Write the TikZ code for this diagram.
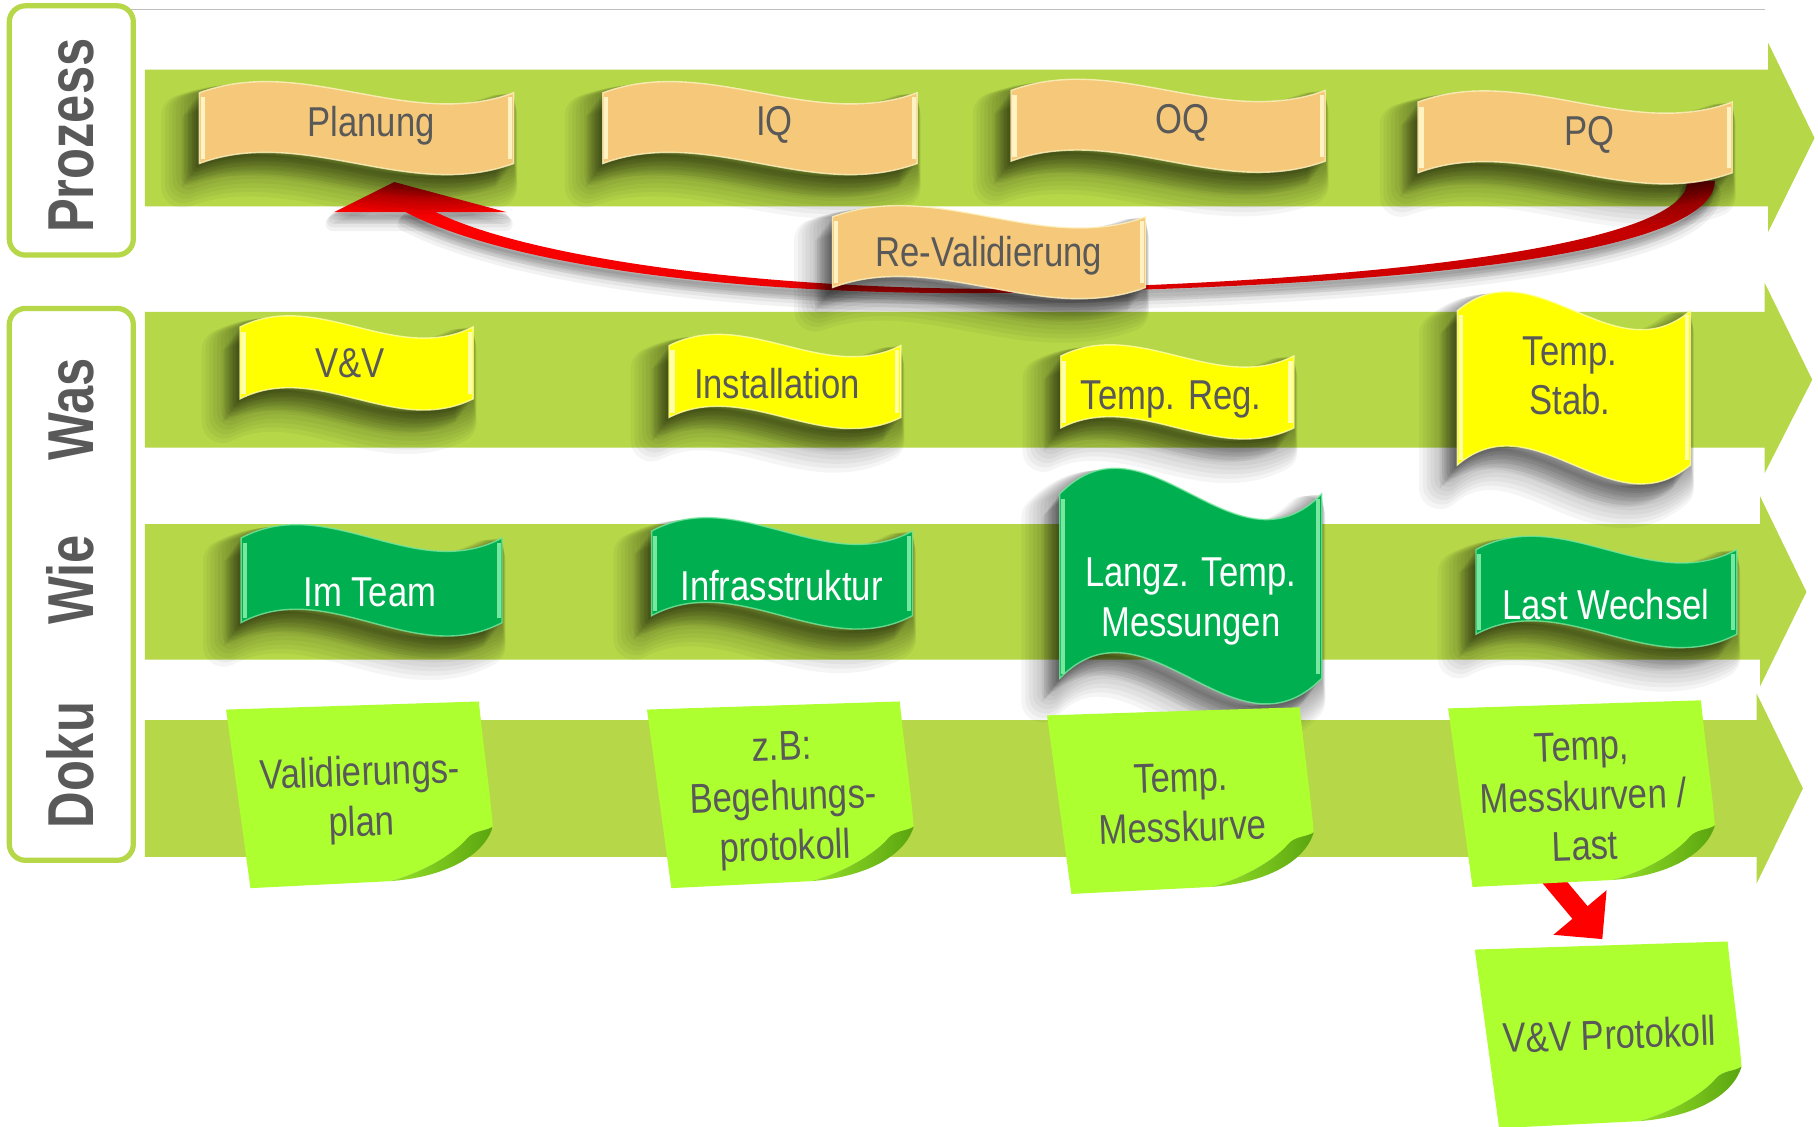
\documentclass[tikz,border=0pt]{standalone}
\usepackage{fontspec}
\setmainfont{Liberation Sans}[FakeStretch=0.83]
\newfontfamily\lblfont{Liberation Sans}[FakeStretch=0.78]
\usetikzlibrary{arrows.meta}
\definecolor{cBand}{RGB}{181,215,72}
\definecolor{cGreyT}{RGB}{89,89,89}
\definecolor{cTan}{RGB}{245,201,121}
\definecolor{cTanL}{RGB}{255,243,195}
\definecolor{cYel}{RGB}{255,255,0}
\definecolor{cYelL}{RGB}{255,255,170}
\definecolor{cGrn}{RGB}{0,176,80}
\definecolor{cGrnL}{RGB}{120,232,160}
\definecolor{cNote}{RGB}{173,255,47}
\definecolor{cCurlA}{RGB}{150,225,40}
\definecolor{cCurlB}{RGB}{90,165,15}
\definecolor{cRed}{RGB}{255,0,0}
\definecolor{cDRed}{RGB}{192,0,0}
\definecolor{cLine}{RGB}{191,191,191}

\newcommand\wave[6]{%
  \path[#6] (#1,{#2+#5}) .. controls ({#1+#3/3},{#2+#5-10*#5/3}) and ({#1+2*#3/3},{#2+#5+10*#5/3}) .. ({#1+#3},{#2+#5})
   -- ({#1+#3},{#2+#4-#5}) .. controls ({#1+2*#3/3},{#2+#4-#5+10*#5/3}) and ({#1+#3/3},{#2+#4-#5-10*#5/3}) .. (#1,{#2+#4-#5}) -- cycle;}
\newcommand\banner[7]{%
  \foreach \k in {1,...,10}{%
    \wave{#1}{#2}{#3}{#4}{#5}{shadowlayer, line width={3.6*\k}, shift={({-1.5*\k},{2.0*\k})}}}
  \wave{#1}{#2}{#3}{#4}{#5}{fill=#6}
  \wave{#1}{#2}{#3}{#4}{#5}{draw=#7, line width=1.2, draw opacity=0.8}
  \draw[#7, line width=3.5] ({#1+3},{#2+#5+4}) -- ({#1+3},{#2+#4-#5-4});
  \draw[#7, line width=3.5] ({#1+#3-3},{#2+#5+4}) -- ({#1+#3-3},{#2+#4-#5-4});
}
\newcommand\band[6]{%
  \fill[cBand] (125,#1) -- (#3,#1) -- (#3,#5) -- (#4,{(#1+#2)/2}) -- (#3,#6) -- (#3,#2) -- (125,#2) -- cycle;}
\newcommand\stickynote[2]{%
  \fill[cNote] (#1,{#2+7}) -- ({#1+218},#2) .. controls ({#1+222},{#2+40}) and ({#1+228},{#2+80}) .. ({#1+230},{#2+108})
    .. controls ({#1+224},{#2+112}) and ({#1+214},{#2+111}) .. ({#1+208},{#2+118})
    .. controls ({#1+200},{#2+128}) and ({#1+175},{#2+146}) .. ({#1+141},{#2+155}) -- ({#1+21},{#2+161}) -- cycle;
  \shade[left color=cCurlA, right color=cCurlB] ({#1+141},{#2+155}) .. controls ({#1+175},{#2+146}) and ({#1+200},{#2+128}) .. ({#1+208},{#2+118})
    .. controls ({#1+214},{#2+111}) and ({#1+224},{#2+112}) .. ({#1+230},{#2+108})
    .. controls ({#1+222},{#2+135}) and ({#1+185},{#2+152}) .. ({#1+141},{#2+155}) -- cycle;
}
\def\arrowbody{(1479,156) .. controls (1478,215) and (1250,245) .. (900,252) .. controls (650,258) and (440,230) .. (350,183)
 -- (376,183) .. controls (455,222) and (660,252) .. (900,249) .. controls (1240,240) and (1455,205) .. (1455,157) -- cycle}
\def\arrowhead{(288,183) -- (340,157) -- (437,183) -- cycle}

\begin{document}
\begin{tikzpicture}[x=1pt,y=-1pt,
  shadowlayer/.style={fill=black, draw=black, fill opacity=0.048, draw opacity=0.04, line join=round},
  ashadow/.style={fill=black, draw=black, fill opacity=0.05, draw opacity=0.05, line join=round},
  labelbox/.style={draw=cBand, line width=4.5, rounded corners=14},
  lbl/.style={font=\lblfont\bfseries\fontsize{56}{60}\selectfont, text=cGreyT, rotate=90, inner sep=0, text height=40pt, text depth=0pt},
  txt/.style={font=\fontsize{36}{43}\selectfont, text=cGreyT, align=center, inner sep=0, text height=25.8pt, text depth=0pt},
  wtxt/.style={txt, text=white},
  ntxt/.style={txt, rotate=2}]
\useasboundingbox (0,0) rectangle (1568,972);
\fill[white] (0,0) rectangle (1568,972);

% top line
\draw[cLine, line width=1.2] (112,8) -- (1522,8);

% label boxes
\draw[labelbox] (8,5) rectangle (115,220);
\draw[labelbox] (8,266) rectangle (115,742);
\node[lbl] (lprozess) at (61,117) {Prozess};
\node[lbl] (lwas) at (61,353) {Was};
\node[lbl] (lwie) at (61,500) {Wie};
\node[lbl] (ldoku) at (61,660) {Doku};

% bands
\band{60}{178}{1525}{1565}{37}{200}
\band{269}{386}{1522}{1563}{244}{408}
\band{452}{569}{1518}{1558}{428}{592}
\band{621}{739}{1515}{1555}{598}{762}

% red curved arrow
\foreach \k in {1,...,5}{%
  \path[ashadow, line width={2.5*\k}, shift={(-1,{2*\k})}] \arrowbody;
  \path[ashadow, line width={2.5*\k}, shift={(-1,{2*\k})}] \arrowhead;}
\shade[left color=cRed, right color=cDRed] \arrowbody;
\shade[top color=cDRed, bottom color=cRed] \arrowhead;

% tan banners
\banner{172}{70}{271}{81}{10}{cTan}{cTanL}
\banner{520}{70}{271}{81}{10}{cTan}{cTanL}
\banner{872}{68}{271}{81}{10}{cTan}{cTanL}
\banner{1223}{78}{271}{81}{10}{cTan}{cTanL}
\banner{718}{177}{270}{81}{10}{cTan}{cTanL}
\node[txt] (planung) at (320,105) {Planung};
\node[txt] (iq) at (668,104) {IQ};
\node[txt] (oq) at (1020,102) {OQ};
\node[txt] (pq) at (1371,113) {PQ};
\node[txt] (reval) at (853,217) {Re-Validierung};

% yellow banners
\banner{207}{272}{201}{82}{10}{cYel}{cYelL}
\banner{577}{288}{200}{82}{10}{cYel}{cYelL}
\banner{915}{297}{201}{82}{10}{cYel}{cYelL}
\banner{1257}{251}{201}{167}{17}{cYel}{cYelL}
\node[txt] (vv) at (302,313) {V\&V};
\node[txt] (inst) at (670,331) {Installation};
\node[txt] (treg) at (1010,340) {Temp. Reg.};
\node[txt] (tstab) at (1354,345) {Temp.\\Stab.};

% green banners
\banner{208}{452}{225}{97}{12}{cGrn}{cGrnL}
\banner{562}{446}{225}{97}{12}{cGrn}{cGrnL}
\banner{914}{403}{226}{205}{23}{cGrn}{cGrnL}
\banner{1273}{462}{225}{97}{12}{cGrn}{cGrnL}
\node[wtxt] (team) at (319,510) {Im Team};
\node[wtxt] (infra) at (674,505) {Infrasstruktur};
\node[wtxt] (langz) at (1027,536) {Langz. Temp.\\Messungen};
\node[wtxt] (last) at (1385,521) {Last Wechsel};

% down arrow
\coordinate (d1) at (1330,748);
\coordinate (d2) at (1382,810);
\draw[cRed, line width=17, -{Triangle[length=30pt,width=58pt]}] (d1) -- (d2);

% notes
\stickynote{195}{605}
\stickynote{558}{605}
\stickynote{903}{610}
\stickynote{1249}{604}
\stickynote{1272}{812}
\node[ntxt] (n1) at (312,708) {Validierungs-\\plan};
\node[ntxt] (n2) at (677,729) {z.B:\\Begehungs-\\protokoll};
\node[ntxt] (n3) at (1020,713) {Temp.\\Messkurve};
\node[ntxt] (n4) at (1367,729) {Temp,\\Messkurven /\\Last};
\node[ntxt] (n5) at (1388,892) {V\&V Protokoll};
\end{tikzpicture}
\end{document}
